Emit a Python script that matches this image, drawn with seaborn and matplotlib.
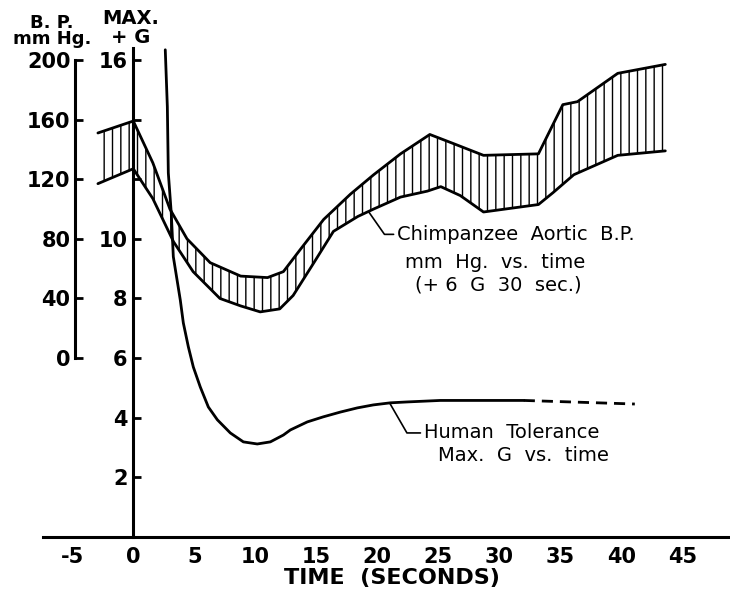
import matplotlib.pyplot as plt
import seaborn as sns

# ==============================
# Data
# ==============================
x_ticks = [-5, 0, 5, 10, 15, 20, 25, 30, 35, 40, 45]
x_tick_labels = ["-5", "0", "5", "10", "15", "20", "25", "30", "35", "40", "45"]
g_ticks = [2, 4, 6, 8, 10, 12, 14, 16]
g_tick_labels = ["2", "4", "6", "8", "10", "", "", "16"]
bp_ticks = [0, 40, 80, 120, 160, 200]
bp_tick_labels = ["0", "40", "80", "120", "160", "200"]

# Human tolerance (max +G vs time)
human_t = [2.62, 2.79, 2.87, 3.11, 3.28, 3.85, 4.10, 4.51, 4.92, 5.49, 6.15, 6.89,
           7.95, 9.02, 10.16, 11.23, 12.30, 12.87, 14.26, 15.57, 16.97, 18.36, 19.67,
           21.07, 22.46, 25.16, 32.0]
human_g = [16.34, 14.43, 12.21, 10.87, 9.40, 7.95, 7.18, 6.38, 5.70, 5.03, 4.36, 3.93,
           3.49, 3.19, 3.12, 3.19, 3.42, 3.59, 3.86, 4.03, 4.19, 4.33, 4.43,
           4.50, 4.53, 4.58, 4.58]
human_dash_t = [32.0, 41.1]
human_dash_g = [4.58, 4.46]

# Chimpanzee aortic B.P. band (mm Hg)
upper_t = [-2.9, 0.0, 1.6, 3.0, 4.4, 6.3, 8.8, 11.0, 12.3, 13.7, 15.6, 17.8, 19.7, 21.9,
           24.3, 26.2, 28.7, 33.2, 35.2, 36.4, 39.7, 43.6]
upper_bp = [151, 159, 131, 100, 80, 64, 55, 54, 58, 73, 93, 110, 123, 137,
            150, 144, 136, 137, 170, 172, 191, 197]
lower_t = [-2.9, 0.0, 1.6, 3.3, 4.9, 7.1, 8.8, 10.4, 12.0, 13.1, 14.8, 16.4, 18.4, 19.7,
           21.9, 24.1, 25.2, 26.8, 28.7, 33.2, 34.4, 36.1, 39.7, 43.6]
lower_bp = [117, 127, 107, 78, 58, 40, 35, 31, 33, 42, 64, 85, 95, 100,
            108, 112, 115, 109, 98, 103, 111, 123, 136, 139]

# ==============================
# Figure setup
# ==============================
sns.set_style("white")
plt.rcParams["font.family"] = ["DejaVu Sans"]
plt.rcParams["hatch.linewidth"] = 1.0
plt.rcParams["text.color"] = "black"
plt.rcParams["axes.edgecolor"] = "black"
plt.rcParams["xtick.color"] = "black"
plt.rcParams["ytick.color"] = "black"

fig = plt.figure(figsize=(7.3, 5.94), dpi=100)
ax = fig.add_axes([43 / 730, 57 / 594, 687 / 730, 489 / 594])
ax.set_xlim(-7.4, 48.9)
ax.set_ylim(0, 16.4)

# BP axis shares time, BP = (G - 6) * 20
ax2 = ax.twinx()
ax2.set_ylim((0 - 6) * 20, (16.4 - 6) * 20)

# ==============================
# Curves
# ==============================
band_t = upper_t + lower_t[::-1]
band_bp = upper_bp + lower_bp[::-1]
ax2.fill(band_t, band_bp, facecolor="none", edgecolor="black", hatch="||", linewidth=0)
sns.lineplot(x=upper_t, y=upper_bp, ax=ax2, color="black", linewidth=2.0)
sns.lineplot(x=lower_t, y=lower_bp, ax=ax2, color="black", linewidth=2.0)

sns.lineplot(x=human_t, y=human_g, ax=ax, color="black", linewidth=2.0)
ax.lines[-1].set_clip_on(False)
sns.lineplot(x=human_dash_t, y=human_dash_g, ax=ax, color="black", linewidth=2.0,
             linestyle=(0, (4, 2.5)))

# ==============================
# Axes styling
# ==============================
for a in (ax, ax2):
    a.spines["top"].set_visible(False)
    a.spines["right"].set_visible(False)
    a.set_facecolor("none")

ax.spines["left"].set_position(("data", 0))
ax.spines["left"].set_linewidth(2.2)
ax.spines["bottom"].set_linewidth(2.2)
ax.set_xticks(x_ticks)
ax.set_xticklabels(x_tick_labels)
ax.set_yticks(g_ticks)
ax.set_yticklabels(g_tick_labels)
ax.tick_params(axis="x", direction="in", length=6, width=2, pad=7,
               labelsize=15)
ax.tick_params(axis="y", direction="in", length=6, width=2, pad=4,
               labelsize=15)
for lab in ax.get_xticklabels() + ax.get_yticklabels():
    lab.set_fontweight("bold")

ax2.spines["bottom"].set_visible(False)
ax2.spines["left"].set_visible(True)
ax2.spines["left"].set_position(("data", -4.8))
ax2.spines["left"].set_bounds(0, 200)
ax2.spines["left"].set_linewidth(2.2)
ax2.yaxis.set_ticks_position("left")
ax2.yaxis.set_label_position("left")
ax2.set_yticks(bp_ticks)
ax2.set_yticklabels(bp_tick_labels)
ax2.tick_params(axis="y", direction="in", length=6, width=2, pad=3, labelsize=15)
for lab in ax2.get_yticklabels():
    lab.set_fontweight("bold")

# ==============================
# Labels and annotations
# ==============================
fig.text(392 / 730, 1 - 578 / 594, "TIME  (SECONDS)", ha="center", va="center",
         fontsize=16, fontweight="bold")
fig.text(131 / 730, 1 - 28 / 594, "MAX.\n+ G", ha="center", va="center",
         fontsize=14, fontweight="bold", linespacing=0.95)
fig.text(52 / 730, 1 - 31 / 594, "B. P.\nmm Hg.", ha="center", va="center",
         fontsize=13, fontweight="bold", linespacing=0.9)

ax2.annotate("Chimpanzee  Aortic  B.P.", xy=(19.3, 98), xytext=(21.6, 83),
             ha="left", va="center", fontsize=14,
             arrowprops=dict(arrowstyle="-", color="black", lw=1.2, relpos=(0, 0.5),
                             shrinkA=0, shrinkB=0,
                             connectionstyle="angle,angleA=0,angleB=-55,rad=0"))
ax2.text(22.3, 64, "mm  Hg.  vs.  time", ha="left", va="center", fontsize=14)
ax2.text(23.1, 49, "(+ 6  G  30  sec.)", ha="left", va="center", fontsize=14)

ax.annotate("Human  Tolerance", xy=(21.0, 4.5), xytext=(23.8, 3.49),
            ha="left", va="center", fontsize=14,
            arrowprops=dict(arrowstyle="-", color="black", lw=1.2, relpos=(0, 0.5),
                            shrinkA=0, shrinkB=0,
                            connectionstyle="angle,angleA=0,angleB=-60,rad=0"))
ax.text(25.0, 2.72, "Max.  G  vs.  time", ha="left", va="center", fontsize=14)

plt.savefig("out.png", dpi=100)
